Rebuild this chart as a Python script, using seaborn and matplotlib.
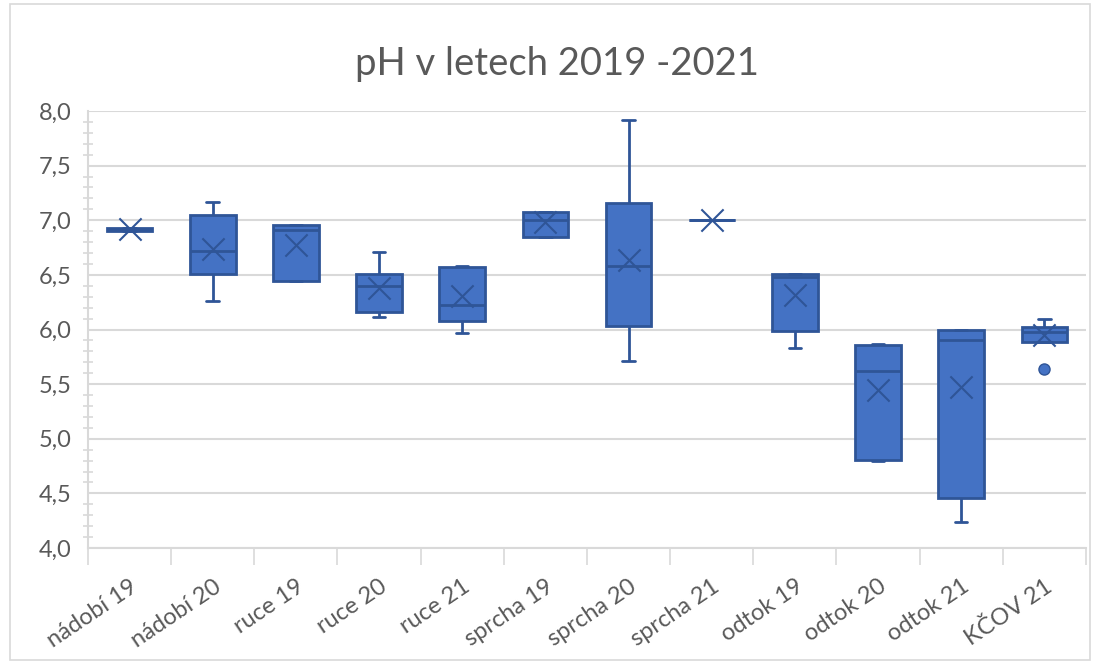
import numpy as np
import pandas as pd
import matplotlib.pyplot as plt
import matplotlib.ticker as mticker
import seaborn as sns

# categories and estimated sample values (whisker low, Q1, median, Q3, whisker high)
kategorie = ["nádobí 19", "nádobí 20", "ruce 19", "ruce 20", "ruce 21", "sprcha 19",
             "sprcha 20", "sprcha 21", "odtok 19", "odtok 20", "odtok 21", "KČOV 21"]
hodnoty = [
    [6.90, 6.90, 6.92, 6.93, 6.93],
    [6.26, 6.51, 6.72, 7.05, 7.17],
    [6.44, 6.44, 6.91, 6.96, 6.96],
    [6.11, 6.16, 6.40, 6.51, 6.71],
    [5.97, 6.08, 6.22, 6.57, 6.58],
    [6.85, 6.85, 7.00, 7.08, 7.08],
    [5.71, 6.03, 6.58, 7.16, 7.92],
    [7.00, 7.00, 7.00, 7.00, 7.00],
    [5.83, 5.99, 6.48, 6.51, 6.51],
    [4.80, 4.81, 5.62, 5.86, 5.87],
    [4.24, 4.46, 5.90, 6.00, 6.00],
    [5.64, 5.89, 5.89, 5.98, 6.02, 6.02, 6.10],
]
# mean markers (X) as shown in the chart
prumery = [6.92, 6.74, 6.77, 6.38, 6.31, 6.98, 6.64, 7.00, 6.32, 5.45, 5.47, 5.95]

df = pd.DataFrame(
    [(k, v) for k, vals in zip(kategorie, hodnoty) for v in vals],
    columns=["kategorie", "pH"],
)
df_mean = pd.DataFrame({"kategorie": kategorie, "pH": prumery})

sns.set_style("white")
plt.rcParams["font.family"] = ["Lato", "DejaVu Sans"]

fill = "#4472C4"
edge = "#2F5597"
grey_txt = "#595959"
grid_c = "#D9D9D9"

fig = plt.figure(figsize=(10.94, 6.64), dpi=100)
ax = fig.add_axes([0.0804, 0.1747, 0.9123, 0.6581])

sns.boxplot(
    data=df, x="kategorie", y="pH", order=kategorie, ax=ax,
    color=fill, width=0.55, whis=1.5, linewidth=2, capwidths=0.15,
    boxprops=dict(facecolor=fill, edgecolor=edge),
    whiskerprops=dict(color=edge, linewidth=2),
    capprops=dict(color=edge, linewidth=2),
    medianprops=dict(color=edge, linewidth=2),
    flierprops=dict(marker="o", markerfacecolor=fill, markeredgecolor=edge,
                    markersize=8),
)
sns.stripplot(
    data=df_mean, x="kategorie", y="pH", order=kategorie, ax=ax,
    jitter=False, marker="x", s=16, linewidth=1.5, color=edge, zorder=5,
)

ax.set_ylim(4.0, 8.0)
ax.set_xlim(-0.5, len(kategorie) - 0.5)
ax.yaxis.set_major_locator(mticker.MultipleLocator(0.5))
ax.yaxis.set_minor_locator(mticker.MultipleLocator(0.1))
ax.yaxis.set_major_formatter(
    mticker.FuncFormatter(lambda v, p: f"{v:.1f}".replace(".", ",")))
ax.grid(axis="y", which="major", color=grid_c, linewidth=1.5)
ax.set_axisbelow(True)

ax.set_xlabel("")
ax.set_ylabel("")
# title is centred on the whole chart, not on the plot area
fig.text(0.509, 0.887, "pH v letech 2019 -2021", fontsize=27.5, color=grey_txt,
         ha="center", va="baseline")

for s in ["top", "right"]:
    ax.spines[s].set_visible(False)
for s in ["left", "bottom"]:
    ax.spines[s].set_color(grid_c)
    ax.spines[s].set_linewidth(1.5)

ax.tick_params(axis="y", which="major", labelsize=17, labelcolor=grey_txt,
               length=0, pad=12)
ax.tick_params(axis="y", which="minor", length=7, direction="inout",
               color=grid_c, width=1.2, left=True)

# category boundary ticks on x axis
ax.set_xticks(np.arange(len(kategorie)))
ax.set_xticklabels(kategorie, rotation=34, ha="right", rotation_mode="anchor",
                   fontsize=17, color=grey_txt)
ax.tick_params(axis="x", which="major", length=0, pad=20)
ax.set_xticks(np.arange(len(kategorie) + 1) - 0.5, minor=True)
ax.tick_params(axis="x", which="minor", length=12, color=grid_c, width=1.2,
               bottom=True)

# outer chart border
fig.patches.append(plt.Rectangle((0.009, 0.006), 0.987, 0.988, fill=False,
                                 edgecolor=grid_c, linewidth=1.2,
                                 transform=fig.transFigure))

fig.savefig("out.png", dpi=100)
